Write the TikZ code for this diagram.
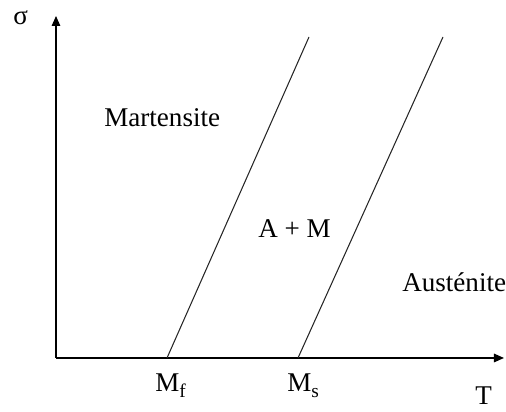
\documentclass[tikz,border=0pt]{standalone}
\usepackage{fontspec}
\setmainfont{Liberation Serif}
\usepackage{tikz}
\usetikzlibrary{arrows.meta,positioning}

\newcommand{\phasesub}[2]{#1\raisebox{-0.45ex}{\fontsize{11}{12}\selectfont #2}}

\begin{document}
\begin{tikzpicture}[
        axis/.style={line width=0.85pt, -{Triangle[length=0.2cm, width=0.17cm]}},
        border/.style={line width=0.6pt, black!85},
        label/.style={font=\fontsize{15.4}{18}\selectfont, anchor=base west, inner sep=0pt}
    ]
    \useasboundingbox (0,0) rectangle (10.12,8.24);

    \coordinate (o) at (1.12,1.08);
    \coordinate (ytip) at (1.12,7.92);
    \coordinate (xtip) at (10.08,1.08);

    \coordinate (mf) at (3.34,1.08);
    \coordinate (mftop) at (6.18,7.50);
    \coordinate (ms) at (5.96,1.08);
    \coordinate (mstop) at (8.86,7.50);

    \node[label] (sigma) at (0.26,7.74) {σ};
    \node[label] (temp) at (9.50,0.14) {T};
    \node[label] (mflabel) at (3.10,0.40) {\phasesub{M}{f}};
    \node[label] (mslabel) at (5.74,0.40) {\phasesub{M}{s}};

    \node[label] (mart) at (2.08,5.70) {Martensite};
    \node[label] (mix) at (5.16,3.48) {A + M};
    \node[label] (aust) at (8.04,2.40) {Austénite};

    \draw[axis] (o) -- (ytip);
    \draw[axis] (o) -- (xtip);
    \draw[border] (mf) -- (mftop);
    \draw[border] (ms) -- (mstop);
\end{tikzpicture}
\end{document}
